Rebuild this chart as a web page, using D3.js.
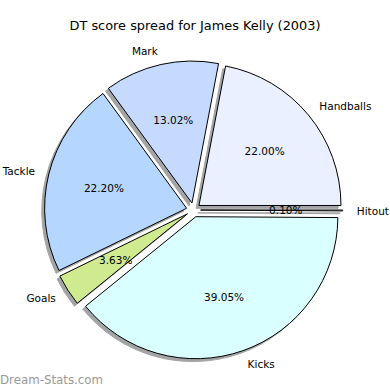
<!DOCTYPE html>
<html>
<head>
<meta charset="utf-8">
<script src="https://cdn.jsdelivr.net/npm/d3@7"></script>
<style>
  body { margin: 0; background: #fff; }
  svg { display: block; font-family: "DejaVu Sans", sans-serif; }
</style>
</head>
<body>
<svg id="chart" width="390" height="390"></svg>
<script>
// data, counter-clockwise from 3 o'clock
const categories = ['Handballs', 'Mark', 'Tackle', 'Goals', 'Kicks', 'Hitout'];
const shares = [22.00, 13.02, 22.20, 3.63, 39.05, 0.10];
const sliceColors = ['#eaf0ff', '#c6d9ff', '#b5d6ff', '#d0eb8f', '#daffff', '#ffffff'];

const width = 390;
const height = 390;
const cx = 193.5;
const cy = 210;
const radius = 142;
const explode = 0.05 * radius;
const shadowOff = 0.02 * radius;

const svg = d3.select('#chart');

svg.append('rect')
  .attr('width', width)
  .attr('height', height)
  .attr('fill', '#fff');

// title
svg.append('text')
  .attr('x', 195)
  .attr('y', 25)
  .attr('text-anchor', 'middle')
  .attr('dominant-baseline', 'central')
  .style('font-size', '12.9px')
  .attr('fill', '#000')
  .text('DT score spread for James Kelly (2003)');

// matplotlib style: start at 3 o'clock and go counter-clockwise
const pie = d3.pie()
  .sort(null)
  .value(d => d.value)
  .startAngle(Math.PI / 2)
  .endAngle(Math.PI / 2 - 2 * Math.PI);

const arcs = pie(categories.map((c, i) => ({ name: c, value: shares[i], color: sliceColors[i] })));

arcs.forEach((a) => {
  const mid = (a.startAngle + a.endAngle) / 2;
  a.mid = mid;
  a.dx = Math.sin(mid) * explode;
  a.dy = -Math.cos(mid) * explode;
});

const arc = d3.arc()
  .innerRadius(0)
  .outerRadius(radius);

const g = svg.append('g').attr('transform', `translate(${cx},${cy})`);

// shadows behind all the wedges
g.selectAll('.shadow')
  .data(arcs)
  .enter()
  .append('path')
  .attr('class', 'shadow')
  .attr('transform', d => `translate(${d.dx - shadowOff},${d.dy + shadowOff})`)
  .attr('d', arc)
  .attr('fill', '#a2a4a6')
  .attr('stroke', '#a2a4a6')
  .attr('stroke-width', 1);

g.selectAll('.wedge')
  .data(arcs)
  .enter()
  .append('path')
  .attr('class', 'wedge')
  .attr('transform', d => `translate(${d.dx},${d.dy})`)
  .attr('d', arc)
  .attr('fill', d => d.data.color)
  .attr('stroke', '#000')
  .attr('stroke-width', 1)
  .attr('stroke-linejoin', 'miter');

// category labels at 1.1 r
g.selectAll('.label')
  .data(arcs)
  .enter()
  .append('text')
  .attr('class', 'label')
  .attr('x', d => d.dx + 1.1 * radius * Math.sin(d.mid))
  .attr('y', d => d.dy - 1.1 * radius * Math.cos(d.mid))
  .attr('text-anchor', d => (Math.sin(d.mid) > 0 ? 'start' : 'end'))
  .attr('dominant-baseline', 'central')
  .style('font-size', '10.5px')
  .attr('fill', '#000')
  .text(d => d.data.name);

// percentages at 0.6 r
g.selectAll('.pct')
  .data(arcs)
  .enter()
  .append('text')
  .attr('class', 'pct')
  .attr('x', d => d.dx + 0.6 * radius * Math.sin(d.mid))
  .attr('y', d => d.dy - 0.6 * radius * Math.cos(d.mid))
  .attr('text-anchor', 'middle')
  .attr('dominant-baseline', 'central')
  .style('font-size', '10.5px')
  .attr('fill', '#000')
  .text(d => `${d.data.value.toFixed(2)}%`);

// watermark
svg.append('text')
  .attr('x', 0)
  .attr('y', 380)
  .attr('dominant-baseline', 'central')
  .style('font-size', '11.8px')
  .attr('fill', '#999')
  .text('Dream-Stats.com');
</script>
</body>
</html>
